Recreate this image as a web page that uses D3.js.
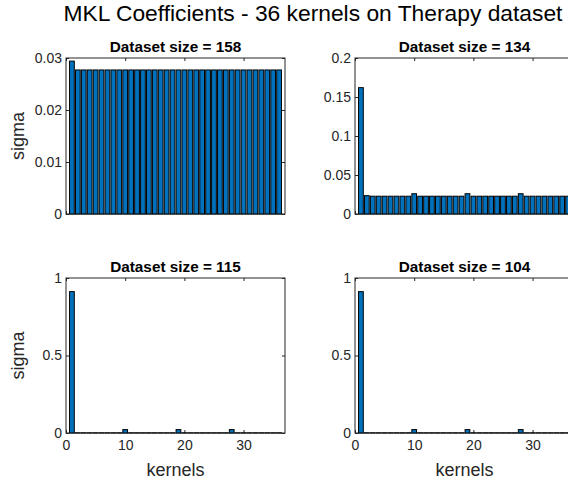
<!DOCTYPE html>
<html>
<head>
<meta charset="utf-8">
<title>MKL Coefficients</title>
<script src="https://cdn.jsdelivr.net/npm/d3@7"></script>
<style>
  body { margin: 0; background: #fff; }
  text { font-family: "Liberation Sans", Arial, sans-serif; fill: #262626; }
  .tick line { stroke: #262626; }
</style>
</head>
<body>
<script>
var width = 568, height = 488;

// kernel index (x categories)
var kernels = [1,2,3,4,5,6,7,8,9,10,11,12,13,14,15,16,17,18,
               19,20,21,22,23,24,25,26,27,28,29,30,31,32,33,34,35,36];
var datasetSizes = [158, 134, 115, 104];

// sigma per kernel
var sigma158 = [0.0294,0.0277,0.0277,0.0277,0.0277,0.0277,0.0277,0.0277,0.0277,0.0277,0.0277,0.0277,
                0.0277,0.0277,0.0277,0.0277,0.0277,0.0277,0.0277,0.0277,0.0277,0.0277,0.0277,0.0277,
                0.0277,0.0277,0.0277,0.0277,0.0277,0.0277,0.0277,0.0277,0.0277,0.0277,0.0277,0.0277];
var sigma134 = [0.162,0.0235,0.0228,0.0228,0.0228,0.0228,0.0228,0.0228,0.0228,0.026,0.0228,0.0228,
                0.0228,0.0228,0.0228,0.0228,0.0228,0.0228,0.026,0.0228,0.0228,0.0228,0.0228,0.0228,
                0.0228,0.0228,0.0228,0.026,0.0228,0.0228,0.0228,0.0228,0.0228,0.0228,0.0228,0.0228];
var sigma115 = [0.912,0.001,0.001,0.001,0.001,0.001,0.001,0.001,0.001,0.022,0.001,0.001,
                0.001,0.001,0.001,0.001,0.001,0.001,0.022,0.001,0.001,0.001,0.001,0.001,
                0.001,0.001,0.001,0.022,0.001,0.001,0.001,0.001,0.001,0.001,0.001,0.001];
var sigma104 = [0.912,0.001,0.001,0.001,0.001,0.001,0.001,0.001,0.001,0.022,0.001,0.001,
                0.001,0.001,0.001,0.001,0.001,0.001,0.022,0.001,0.001,0.001,0.001,0.001,
                0.001,0.001,0.001,0.022,0.001,0.001,0.001,0.001,0.001,0.001,0.001,0.001];

var yMaxes = [0.03, 0.2, 1, 1];
var yTickValues = [[0, 0.01, 0.02, 0.03], [0, 0.05, 0.1, 0.15, 0.2], [0, 0.5, 1], [0, 0.5, 1]];
var xTickValues = [0, 10, 20, 30];

var series = [sigma158, sigma134, sigma115, sigma104];

// axes boxes in pixels (right column runs past the picture edge, as in the original)
var boxes = [
  {x: 66,  y: 58,  w: 219, h: 156, xlab: false, ylab: true},
  {x: 355, y: 58,  w: 219, h: 156, xlab: false, ylab: false},
  {x: 66,  y: 278, w: 219, h: 155, xlab: true,  ylab: true},
  {x: 355, y: 278, w: 219, h: 155, xlab: true,  ylab: false}
];

var svg = d3.select("body").append("svg")
  .attr("width", width)
  .attr("height", height);

svg.append("text")
  .attr("x", 313).attr("y", 21)
  .attr("text-anchor", "middle")
  .style("font-size", "22.8px")
  .style("fill", "#000")
  .text("MKL Coefficients - 36 kernels on Therapy dataset");

boxes.forEach(function (b, i) {
  var g = svg.append("g").attr("transform", "translate(" + b.x + "," + b.y + ")");

  var xScale = d3.scaleLinear().domain([0, 37]).range([0, b.w]);
  var yScale = d3.scaleLinear().domain([0, yMaxes[i]]).range([b.h, 0]);
  var bw = 0.8 * (xScale(1) - xScale(0));

  // axes box and ticks underneath the bars (MATLAB default layer)
  g.append("rect")
    .attr("width", b.w).attr("height", b.h)
    .attr("fill", "none").attr("stroke", "#262626").attr("stroke-width", 1);

  var fmt = function (d) { return String(d); };

  var left = g.append("g")
    .call(d3.axisLeft(yScale).tickValues(yTickValues[i]).tickSize(-3).tickPadding(4).tickFormat(fmt));
  var right = g.append("g").attr("transform", "translate(" + b.w + ",0)")
    .call(d3.axisRight(yScale).tickValues(yTickValues[i]).tickSize(-3).tickFormat(""));
  var bottom = g.append("g").attr("transform", "translate(0," + b.h + ")")
    .call(d3.axisBottom(xScale).tickValues(xTickValues).tickSize(-3).tickPadding(7)
      .tickFormat(b.xlab ? fmt : ""));
  var top = g.append("g")
    .call(d3.axisTop(xScale).tickValues(xTickValues).tickSize(-3).tickFormat(""));

  [left, right, bottom, top].forEach(function (a) {
    a.select(".domain").remove();
    a.selectAll("text").style("font-size", "14px").attr("fill", "#262626")
      .style("font-family", '"Liberation Sans", Arial, sans-serif');
  });

  g.selectAll("rect.bar").data(series[i]).enter().append("rect")
    .attr("class", "bar")
    .attr("x", function (d, j) { return xScale(kernels[j]) - bw / 2; })
    .attr("y", function (d) { return yScale(d); })
    .attr("width", bw)
    .attr("height", function (d) { return b.h - yScale(d); })
    .attr("fill", "#0072BD")
    .attr("stroke", "#000")
    .attr("stroke-width", 1);

  g.append("text")
    .attr("x", b.w / 2).attr("y", -6)
    .attr("text-anchor", "middle")
    .style("font-size", "15.3px").style("font-weight", "bold")
    .style("fill", "#000")
    .text("Dataset size = " + datasetSizes[i]);

  if (b.ylab) {
    g.append("text")
      .attr("transform", "translate(" + (24 - b.x) + "," + (b.h / 2) + ") rotate(-90)")
      .attr("text-anchor", "middle")
      .style("font-size", "18px")
      .text("sigma");
  }
  if (b.xlab) {
    g.append("text")
      .attr("x", b.w / 2).attr("y", b.h + 43)
      .attr("text-anchor", "middle")
      .style("font-size", "18px")
      .text("kernels");
  }
});
</script>
</body>
</html>
